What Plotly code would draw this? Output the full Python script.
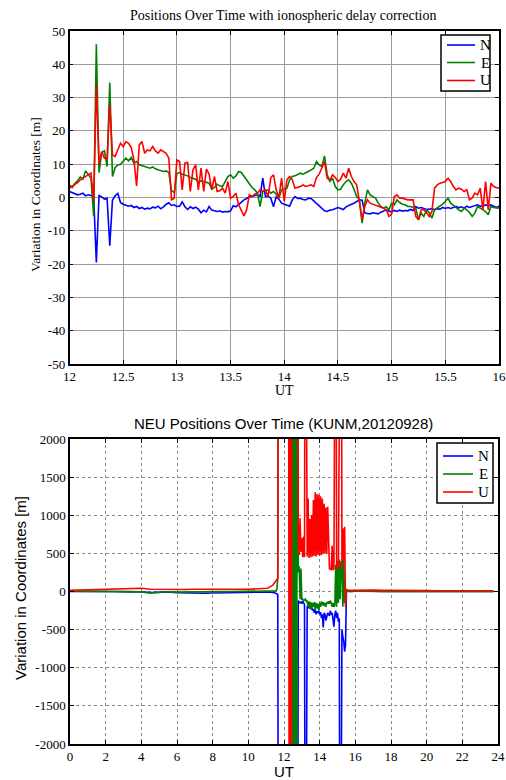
import numpy as np
import plotly.graph_objects as go

# ---------------- Top chart data (UT 12-16 h, 0.025 h sampling) ----------------
top_ut = np.round(12 + 0.025 * np.arange(161), 3)

top_n = [1.8, 1.5, 1.2, 0.8, 1.0, 1.3, 0.5, 0.8,
         0.6, 0.4, -19.5, 0.6, 0.2, -0.5, -0.2, -14.5,
         -0.8, 0.5, 1.2, -1.5, -2.0, -2.3, -2.6, -2.4,
         -3.0, -2.7, -3.3, -3.0, -3.5, -3.2, -3.4, -2.9,
         -3.1, -2.6, -3.4, -2.8, -2.0, -1.6, -2.4, -2.2,
         -2.7, -2.6, -1.3, -2.8, -3.6, -2.8, -3.3, -2.9,
         -3.5, -4.6, -3.8, -4.3, -2.7, -3.8, -3.9, -4.2,
         -4.0, -4.4, -4.2, -4.3, -4.0, -2.5, -2.8, -2.0,
         -1.2, -0.7, -0.3, 0.2, 0.3, 0.6, 0.8, 0.4,
         5.8, 0.3, 0.4, -0.2, -2.8, 0.2, -0.5, -1.7,
         -2.0, -2.4, -2.6, -0.7, 0.3, -0.3, -0.2, -0.6,
         -0.7, -0.2, -0.3, -1.0, -1.8, -2.5, -3.5, -4.0,
         -4.2, -3.8, -3.7, -3.4, -3.0, -3.3, -3.6, -2.8,
         -2.3, -2.0, -1.7, -1.2, -0.7, -0.8, -4.6, -4.8,
         -4.9, -4.6, -4.8, -4.9, -4.4, -4.0, -3.7, -4.1,
         -4.3, -3.9, -4.2, -3.8, -4.1, -3.9, -4.0, -3.6,
         -3.9, -2.7, -3.2, -3.0, -3.4, -3.6, -3.5, -3.3,
         -3.7, -3.4, -3.5, -3.0, -3.3, -3.0, -3.3, -2.9,
         -2.7, -3.1, -2.8, -3.2, -2.6, -3.0, -2.8, -2.5,
         -2.2, -2.6, -2.7, -2.2, -2.5, -2.2, -2.7, -3.0,
         -2.6]

top_e = [3.8, 3.0, 4.2, 5.0, 6.2, 5.5, 8.0, 7.0,
         5.8, -5.5, 46.0, 7.5, 13.5, 14.0, 9.3, 34.5,
         6.3, 9.0, 9.8, 10.0, 11.0, 11.8, 11.0, 12.0,
         10.3, 10.8, 9.8, 9.5, 9.3, 9.0, 8.8, 9.2,
         8.6, 8.3, 8.0, 7.8, 8.0, 7.5, 2.0, 1.5,
         7.2, 7.5, 7.0, 6.8, 6.5, 6.0, 5.8, 5.5,
         4.5, 5.0, 4.8, 4.5, 4.3, 2.5, 3.0, 4.0,
         3.5, 3.3, 5.0, 6.3, 6.8, 5.8, 6.5, 7.8,
         7.5, 6.3, 5.0, 3.8, 3.0, 2.3, 1.3, -2.7,
         1.8, 2.0, 2.3, 1.3, 1.8, 1.0, -0.2, 2.3,
         2.5, 2.8, 5.3, 6.3, 6.5, 6.8, 7.3, 7.0,
         7.3, 7.8, 8.3, 8.8, 10.8, 9.8, 9.3, 12.5,
         6.8, 4.8, 5.8, 3.3, 2.3, 2.5, 3.8, 4.8,
         5.3, 4.3, 2.5, 0.3, -0.7, -7.7, -1.7, 2.3,
         0.8, 0.3, -0.2, -1.7, -2.7, -3.2, -2.8, -3.7,
         -1.7, -2.2, -0.7, -1.5, -2.0, -2.2, -2.7, -2.7,
         -3.0, -3.2, -6.7, -4.7, -5.7, -3.7, -4.5, -6.2,
         -3.7, -3.2, -2.7, -2.0, -1.2, -0.2, -1.7, -2.5,
         -3.0, -3.7, -4.2, -3.2, -3.7, -4.5, -5.7, -4.7,
         -2.7, -3.2, -3.7, -4.2, -5.2, -2.7, -3.0, -3.2,
         -3.2]

top_u = [2.8, 3.3, 4.0, 4.5, 5.3, 5.8, 6.3, 6.8,
         7.3, -1.0, 34.0, 10.0, 13.8, 11.8, 11.5, 28.0,
         12.8, 12.3, 14.5, 16.3, 15.3, 16.8, 16.3, 15.0,
         11.3, 3.5, 15.8, 16.8, 13.3, 14.3, 14.0, 15.3,
         14.0, 13.3, 14.3, 13.8, 13.3, 11.8, -0.7, -0.2,
         11.3, 10.8, 2.3, 10.3, 10.5, 1.8, 8.3, 9.8,
         2.3, 8.8, 1.8, 8.5, 7.0, 2.3, 6.3, 1.8,
         2.0, 2.8, 1.3, 4.8, -0.2, 0.3, 1.3, -2.2,
         -3.7, -5.5, -3.7, 0.8, 0.3, 1.0, 1.3, 2.3,
         1.8, 2.3, 0.3, 6.0, 6.8, 2.3, -0.2, 5.8,
         -1.2, 5.3, 6.3, 5.3, 2.8, 3.0, 3.3, 3.8,
         3.3, 3.5, 3.8, 3.3, 6.0, 7.0, 8.8, 10.8,
         5.8, 5.3, 6.8, 6.0, 4.8, 5.5, 7.3, 5.8,
         8.8, 6.3, 4.8, 3.8, -1.2, -6.7, -2.7, -0.7,
         -1.7, -2.0, -2.2, -2.5, -2.7, -3.2, -3.7, -5.7,
         -5.0, 0.3, 0.8, -0.2, -0.2, -0.5, -0.7, -0.7,
         -0.7, -5.7, -6.7, -3.7, -3.7, -4.5, -5.7, -4.2,
         2.8, 3.8, 4.3, 4.5, 4.8, 5.8, 4.8, 3.3,
         2.3, 2.8, 2.5, 1.8, 2.3, -0.7, -0.2, 1.3,
         0.8, 2.8, -3.7, 4.8, -3.7, 4.3, 3.3, 3.0,
         2.8]

# ---------------- Bottom chart data (UT 0-24 h) ----------------
bot_ut = ([round(0.5 * i, 2) for i in range(22)] +            # 0 .. 10.5
          [round(11 + 0.05 * i, 2) for i in range(95)] +      # 11.0 .. 15.7
          [round(16 + 0.5 * i, 2) for i in range(16)] + [23.75])

bot_n = ([2, 3, 2, 0, -2, 0, -2, -3, -5, -15, -8, -5, -15, -20, -18, -22, -20, -18, -8, -5, -5, -8] +
         [-5, -5, -6, -6, -7, -8, -8, -10, -12, -15,
          -18, -22, -30, -40, -6000, -6000, -6000, -6000, -6000, -6000,
          -6000, -6000, -6000, -6000, -6000, -6000, -6000, -6000, -6000, -6000,
          -6000, -6000, -6000, -6000, -6000, -6000, -120, -130, -150, -140,
          -160, -130, -150, -170, -6000, -6000, -200, -180, -220, -200,
          -230, -210, -250, -230, -280, -240, -300, -260, -280, -250,
          -300, -270, -350, -300, -470, -280, -300, -380, -320, -280,
          -300, -320, -250, -300, -280, -350, -460, -300, -250, -350,
          -280, -400, -350, -6000, -6000, -500, -600, -650, -790, -700,
          -10, 5, 3, 2, 0] +
         [5, 8, 3, 2, 0, 2, 1, 0, 0, 2, 1, 0, 0, 1, 0, 0, 0])

bot_e = ([3, 2, 2, 4, 3, 2, 0, 2, -5, -20, -10, -3, -8, -5, -3, -5, -2, -2, 0, 2, 3, 5] +
         [2, 2, 3, 3, 3, 4, 4, 4, 5, 5,
          6, 8, 30, 175, 6000, 6000, 6000, 6000, 6000, 6000,
          6000, 6000, 6000, 6000, 6000, 6000, 6000, 6000, 6000, 6000,
          -6000, 6000, -6000, 6000, -6000, 6000, 250, 330, -100, 300,
          -110, -100, -120, -110, -100, -130, -120, -200, -130, -220,
          -140, -230, -150, -200, -140, -240, -150, -220, -160, -250,
          -150, -200, -130, -180, -140, -190, -150, -200, -140, -160,
          -130, -160, -120, -150, -200, -150, -200, -180, 350, -200,
          400, -150, 420, -100, 400, 380, -200, 400, -150, -120,
          0, 5, 3, 2, 2] +
         [3, 5, 2, 2, 0, 1, 0, 1, 0, 0, 1, 0, 0, 0, 0, 0, 0])

bot_u = ([15, 18, 22, 24, 25, 27, 35, 40, 42, 30, 28, 30, 25, 27, 30, 32, 30, 30, 30, 30, 30, 32] +
         [40, 42, 45, 50, 55, 62, 70, 80, 92, 105,
          120, 138, 155, 172, 6000, 6000, 6000, 6000, 6000, 6000,
          6000, 6000, 6000, 6000, 6000, 6000, -6000, 6000, -6000, 6000,
          6000, 6000, 6000, 6000, 6000, 6000, 650, 480, 960, 520,
          700, 450, 720, 450, 6000, 6000, 460, 1220, 440, 950,
          450, 1000, 460, 1200, 470, 1300, 460, 1280, 480, 1270,
          470, 1250, 480, 1220, 500, 1150, 500, 1100, 490, 1110,
          500, 300, 300, 280, 600, 280, 300, 6000, 6000, 300,
          400, 300, 6000, 6000, 6000, 300, 830, 400, 850, -200,
          30, 20, 18, 15, 15] +
         [15, 20, 18, 15, 15, 14, 20, 15, 12, 10, 10, 12, 10, 8, 10, 12, 10])

top_xticks = [12, 12.5, 13, 13.5, 14, 14.5, 15, 15.5, 16]
top_xlabels = ["12", "12.5", "13", "13.5", "14", "14.5", "15", "15.5", "16"]
top_yticks = [-50, -40, -30, -20, -10, 0, 10, 20, 30, 40, 50]
top_ylabels = ["-50", "-40", "-30", "-20", "-10", "0", "10", "20", "30", "40", "50"]
bot_xticks = list(range(0, 25, 2))
bot_xlabels = [str(v) for v in bot_xticks]
bot_yticks = [-2000, -1500, -1000, -500, 0, 500, 1000, 1500, 2000]
bot_ylabels = ["-2000", "-1500", "-1000", "-500", "0", "500", "1000", "1500", "2000"]

series_names = ["N", "E", "U"]
colors = ["#0000ff", "#008000", "#ff0000"]

W, H = 506, 780
SERIF = "Liberation Serif"
SANS = "Liberation Sans"


def px_x(p):
    return p / W


def px_y(p):
    return 1 - p / H


fig = go.Figure()
for name, vals, c in zip(series_names, [top_n, top_e, top_u], colors):
    fig.add_trace(go.Scatter(x=top_ut, y=vals, mode="lines", name=name,
                             line=dict(color=c, width=1.6), xaxis="x", yaxis="y",
                             showlegend=False))
for name, vals, c in zip(series_names, [bot_n, bot_e, bot_u], colors):
    fig.add_trace(go.Scatter(x=bot_ut, y=vals, mode="lines", name=name,
                             line=dict(color=c, width=1.6), xaxis="x2", yaxis="y2",
                             showlegend=False))

axis_common = dict(showline=True, linecolor="black", mirror="ticks",
                   ticks="inside", ticklen=4, tickcolor="black", zeroline=False,
                   showgrid=True, automargin=False, ticklabeloverflow="allow")

fig.update_layout(
    width=W, height=H, autosize=False,
    margin=dict(l=0, r=0, t=0, b=0, autoexpand=False),
    paper_bgcolor="white", plot_bgcolor="white",
    showlegend=False,
    xaxis=dict(domain=[px_x(69.5), px_x(499)], range=[12, 16], anchor="y",
               tickvals=top_xticks, ticktext=top_xlabels, linewidth=1.5,
               gridcolor="#9a9a9a", gridwidth=1,
               tickfont=dict(family=SERIF, size=13, color="black"), **axis_common),
    yaxis=dict(domain=[px_y(364), px_y(31)], range=[-50, 50], anchor="x",
               tickvals=top_yticks, ticktext=top_ylabels, linewidth=1.5,
               gridcolor="#9a9a9a", gridwidth=1,
               tickfont=dict(family=SERIF, size=13, color="black"), **axis_common),
    xaxis2=dict(domain=[px_x(70), px_x(498)], range=[0, 24], anchor="y2",
                tickvals=bot_xticks, ticktext=bot_xlabels, linewidth=1.5,
                gridcolor="#8a8a8a", gridwidth=1, griddash="dot",
                tickfont=dict(family=SERIF, size=13, color="black"), **axis_common),
    yaxis2=dict(domain=[px_y(744), px_y(439)], range=[-2000, 2000], anchor="x2",
                tickvals=bot_yticks, ticktext=bot_ylabels, linewidth=1.5,
                gridcolor="#8a8a8a", gridwidth=1, griddash="dot",
                tickfont=dict(family=SERIF, size=13, color="black"), **axis_common),
)

annots = [
    dict(text="Positions Over Time with ionospheric delay correction", x=px_x(283), y=px_y(15),
         font=dict(family=SERIF, size=14, color="black"), textangle=0),
    dict(text="UT", x=px_x(284), y=px_y(390), font=dict(family=SERIF, size=14, color="black"), textangle=0),
    dict(text="Variation in Coordinates [m]", x=px_x(35), y=px_y(195),
         font=dict(family=SERIF, size=13.5, color="black"), textangle=-90),
    dict(text="NEU Positions Over Time (KUNM,20120928)", x=px_x(283), y=px_y(424),
         font=dict(family=SANS, size=15, color="black"), textangle=0),
    dict(text="UT", x=px_x(284), y=px_y(771), font=dict(family=SANS, size=15, color="black"), textangle=0),
    dict(text="Variation in Coordinates [m]", x=px_x(20), y=px_y(588),
         font=dict(family=SANS, size=15, color="black"), textangle=-90),
]
for a in annots:
    fig.add_annotation(xref="paper", yref="paper", xanchor="center", yanchor="middle",
                       showarrow=False, **a)

# ---------------- Legends (drawn as boxes, sample lines and labels) ----------------
legend_boxes = [
    dict(x0=441, x1=490, y0=35, y1=91, line_x0=447, line_x1=475, text_x=485, rows=[45, 62.5, 80.5]),
    dict(x0=437, x1=493, y0=443, y1=503, line_x0=443, line_x1=473, text_x=483, rows=[456, 474, 492]),
]
for lb in legend_boxes:
    fig.add_shape(type="rect", xref="paper", yref="paper",
                  x0=px_x(lb["x0"]), x1=px_x(lb["x1"]), y0=px_y(lb["y1"]), y1=px_y(lb["y0"]),
                  fillcolor="white", line=dict(color="black", width=1.5), layer="above")
    for name, c, ry in zip(series_names, colors, lb["rows"]):
        fig.add_shape(type="line", xref="paper", yref="paper",
                      x0=px_x(lb["line_x0"]), x1=px_x(lb["line_x1"]), y0=px_y(ry), y1=px_y(ry),
                      line=dict(color=c, width=1.6), layer="above")
        fig.add_annotation(xref="paper", yref="paper", x=px_x(lb["text_x"]), y=px_y(ry),
                           xanchor="center", yanchor="middle", showarrow=False, text=name,
                           font=dict(family=SERIF, size=15, color="black"))

fig.write_html("out.html", config={"displayModeBar": False},
               post_script="document.body.style.margin='0';document.body.style.overflow='hidden';")
